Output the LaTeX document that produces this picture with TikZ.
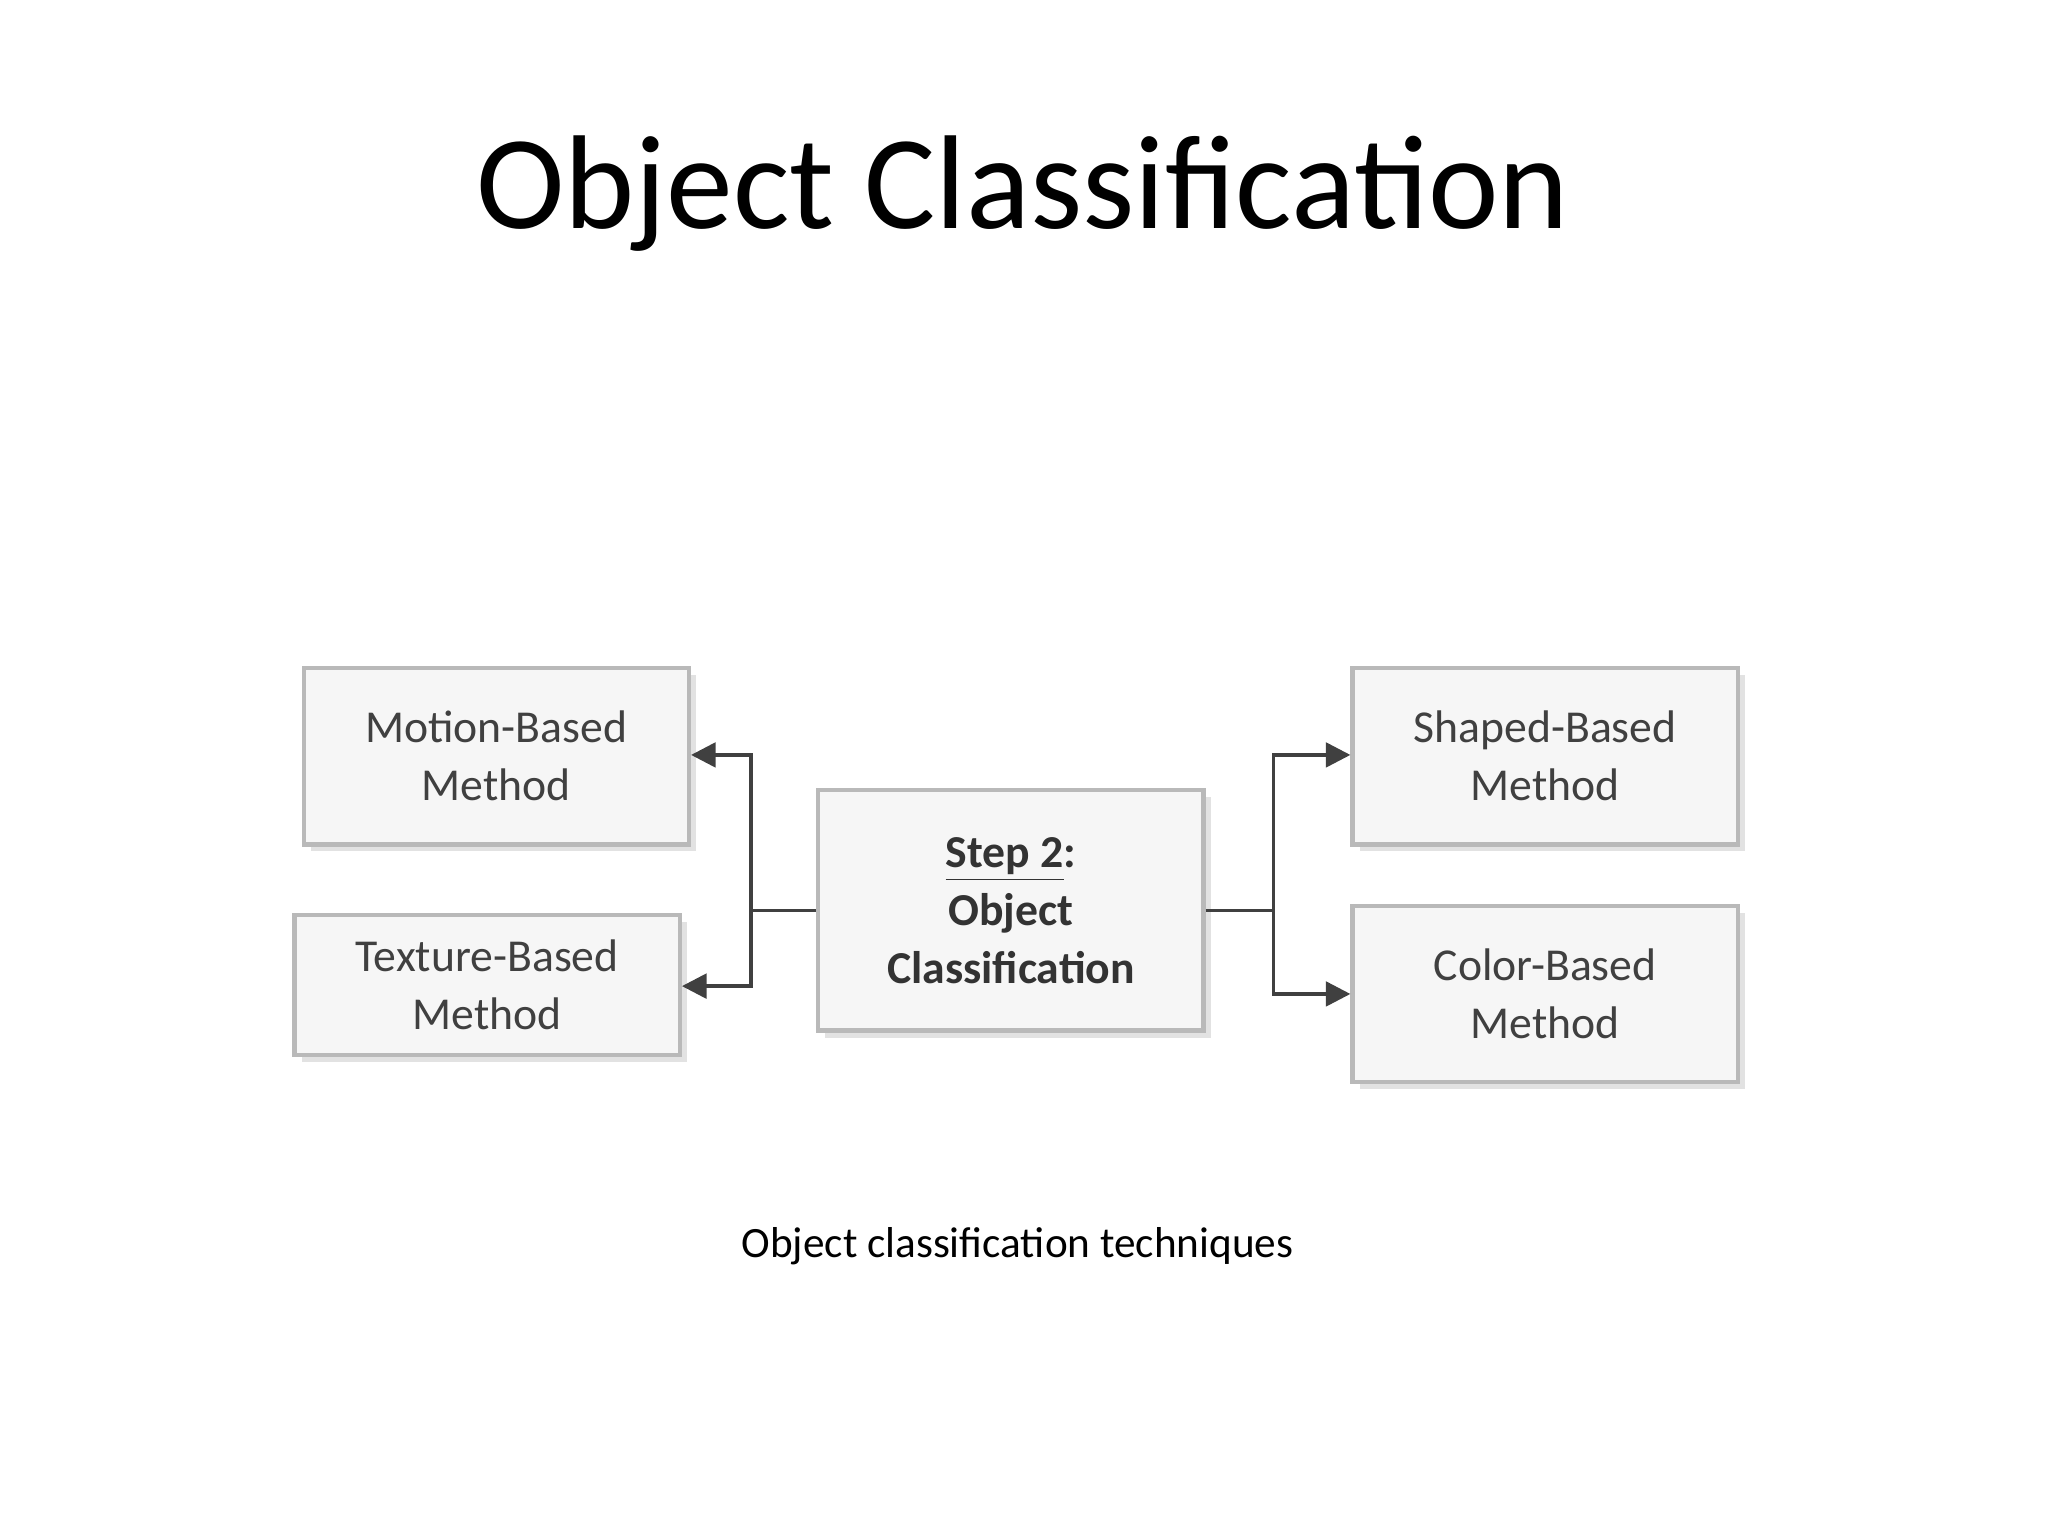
\documentclass[tikz,border=0pt]{standalone}
\usepackage{fontspec}
\setmainfont{Carlito}
\usetikzlibrary{shadows,arrows.meta}
\begin{document}
\begin{tikzpicture}[x=0.013061cm,y=-0.013061cm,
  box/.style={draw=gray!55,line width=1.2pt,fill=gray!7,minimum width=295*0.013061cm,align=center,
    drop shadow={shadow xshift=2pt,shadow yshift=-2pt,fill=gray!45},font=\fontsize{13}{16.5}\selectfont\color{black!75}},
  conn/.style={draw=black!75,line width=1pt},
  arr/.style={conn,-{Triangle[length=7pt,width=7pt]}}]
\useasboundingbox (0,0) rectangle (1568,1176);
\node[font=\fontsize{38}{46}\selectfont] (title) at (783,148) {Object Classification};
\node[font=\fontsize{12.3}{15}\selectfont] (cap) at (779,954) {Object classification techniques};
\node[box,minimum height=135*0.013061cm] (motion) at (380,579) {Motion-Based\\Method};
\node[box,minimum height=107*0.013061cm] (texture) at (373,754) {Texture-Based\\Method};
\node[box,minimum height=184*0.013061cm,font=\fontsize{13}{16.5}\selectfont\bfseries\color{black!80}] (step) at (774,697) {\underline{Step 2}:\\Object\\Classification};
\node[box,minimum height=135*0.013061cm] (shape) at (1183,579) {Shaped-Based\\Method};
\node[box,minimum height=135*0.013061cm] (color) at (1183,761) {Color-Based\\Method};
\coordinate (lj) at (575,697);
\coordinate (rj) at (975,697);
\draw[conn] (step.west) -- (lj);
\draw[conn] (step.east) -- (rj);
\draw[arr] (lj) |- (motion.east |- 0,578);
\draw[arr] (lj) |- (texture.east |- 0,755);
\draw[arr] (rj) |- (shape.west |- 0,578);
\draw[arr] (rj) |- (color.west |- 0,761);
\end{tikzpicture}
\end{document}
